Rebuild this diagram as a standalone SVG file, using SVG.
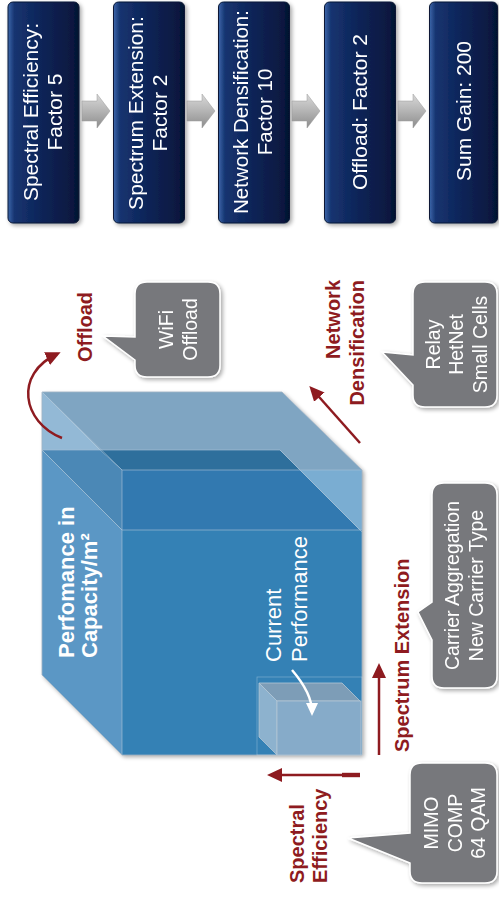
<svg xmlns="http://www.w3.org/2000/svg" width="499" height="899" viewBox="0 0 499 899">
<defs>
<style>
.box{stroke:#0a1836;stroke-width:1}
.boxtxt{fill:#ffffff;font-family:"Liberation Sans",Arial,sans-serif;font-size:21px;text-anchor:middle}
.call{fill:#77787b;stroke:#ffffff;stroke-width:1.5}
.calltxt{fill:#ffffff;font-family:"Liberation Sans",Arial,sans-serif;font-size:19.5px;text-anchor:middle}
.red{fill:#8e1b20;font-family:"Liberation Sans",Arial,sans-serif;font-size:20px;font-weight:bold}
.redline{fill:none;stroke:#8e1b20;stroke-width:2.5}
.edge{fill:none;stroke:#a9c1d6;stroke-width:0.8;stroke-opacity:0.8}
.garrow{fill:url(#gg);stroke:#9a9a9a;stroke-width:0.5}
</style>
<linearGradient id="bg" x1="0" y1="0" x2="1" y2="0">
<stop offset="0" stop-color="#3c66aa"/>
<stop offset="0.09" stop-color="#163470"/>
<stop offset="0.5" stop-color="#0c2356"/>
<stop offset="0.92" stop-color="#07183f"/>
<stop offset="1" stop-color="#04102c"/>
</linearGradient>
<linearGradient id="gg" x1="0" y1="0" x2="0" y2="1">
<stop offset="0" stop-color="#d8d8d8"/>
<stop offset="0.5" stop-color="#b4b4b4"/>
<stop offset="1" stop-color="#8c8c8c"/>
</linearGradient>
<filter id="sh" x="-20%" y="-20%" width="140%" height="140%">
<feGaussianBlur in="SourceAlpha" stdDeviation="2"/>
<feOffset dx="2" dy="2" result="b"/>
<feComponentTransfer><feFuncA type="linear" slope="0.35"/></feComponentTransfer>
<feMerge><feMergeNode/><feMergeNode in="SourceGraphic"/></feMerge>
</filter>
<marker id="rh" markerUnits="userSpaceOnUse" markerWidth="16" markerHeight="16" viewBox="0 0 16 16" refX="11" refY="8" orient="auto">
<path d="M0,1 L15,8 L0,15 Z" fill="#8e1b20"/>
</marker>
<marker id="wh" markerUnits="userSpaceOnUse" markerWidth="14" markerHeight="14" viewBox="0 0 14 14" refX="9" refY="7" orient="auto">
<path d="M0,1 L13,7 L0,13 Z" fill="#ffffff"/>
</marker>
</defs>
<rect width="499" height="899" fill="#ffffff"/>

<g id="box-spectral-efficiency" filter="url(#sh)">
<rect class="box" x="8" y="2" width="71" height="221" rx="5" fill="url(#bg)"/>
<text class="boxtxt" transform="translate(0,112) rotate(-90)"><tspan x="0" y="38">Spectral Efficiency:</tspan><tspan x="0" y="62">Factor 5</tspan></text>
</g>
<g id="box-spectrum-extension" filter="url(#sh)">
<rect class="box" x="113.5" y="2" width="71" height="221" rx="5" fill="url(#bg)"/>
<text class="boxtxt" transform="translate(0,113) rotate(-90)"><tspan x="0" y="143">Spectrum Extension:</tspan><tspan x="0" y="167">Factor 2</tspan></text>
</g>
<g id="box-network-densification" filter="url(#sh)">
<rect class="box" x="218.5" y="2" width="71" height="221" rx="5" fill="url(#bg)"/>
<text class="boxtxt" style="font-size:20.5px" transform="translate(0,112) rotate(-90)"><tspan x="0" y="248">Network Densification:</tspan><tspan x="0" y="272">Factor 10</tspan></text>
</g>
<g id="box-offload" filter="url(#sh)">
<rect class="box" x="324.5" y="2" width="71" height="221" rx="5" fill="url(#bg)"/>
<text class="boxtxt" transform="translate(0,112) rotate(-90)"><tspan x="0" y="367">Offload: Factor 2</tspan></text>
</g>
<g id="box-sum-gain" filter="url(#sh)">
<rect class="box" x="429.5" y="2" width="68" height="221" rx="5" fill="url(#bg)"/>
<text class="boxtxt" transform="translate(0,111) rotate(-90)"><tspan x="0" y="471">Sum Gain: 200</tspan></text>
</g>

<g id="cube">
<g filter="url(#sh)">
<path d="M42,392 H282 L362,470 V755 H122 L42,675 Z" fill="#ffffff"/>
</g>
<polygon points="42,450 122,530 122,755 42,675" fill="#5b97c5"/>
<rect x="122" y="530" width="240" height="225" fill="#3481b5"/>
<polygon points="100,450 280,450 300,470 122,470" fill="#2e6f9c"/>
<polygon points="122,470 300,470 360,530 122,530" fill="#3279b0"/>
<polygon points="300,470 362,470 362,530 360,530" fill="#7aadd2"/>
<polygon points="42,392 282,392 362,470 300,470 280,450 100,450" fill="#7fa5c2"/>
<polygon points="42,392 100,450 42,450" fill="#93b9d6"/>
<polygon points="42,450 100,450 122,470 122,530" fill="#4b88b6"/>
<path class="edge" d="M42,392 L122,470 M122,470 H362 M122,470 V755 M42,450 H280 L362,532 M42,450 L122,530 M122,530 H362"/>
<path class="edge" d="M42,392 H282 L362,470 V755 H122 L42,675 Z" style="stroke:#9fb3c6;stroke-width:1"/>
<g id="current-performance-cube">
<rect x="257" y="677" width="105" height="78" fill="none" stroke="#ffffff" stroke-opacity="0.3" stroke-width="0.8"/>
<polygon points="259,683 342,683 360,701 277,701" fill="#7d9db7" stroke="#b3c6d5" stroke-width="0.8"/>
<polygon points="259,683 277,701 277,755 259,737" fill="#8db2ce" stroke="#b3c6d5" stroke-width="0.8"/>
<rect x="277" y="701" width="84" height="54" fill="#86abc9" stroke="#b3c6d5" stroke-width="0.8"/>
</g>
<text fill="#ffffff" font-family="'Liberation Sans',Arial,sans-serif" font-size="22" font-weight="bold" transform="translate(0,658) rotate(-90)"><tspan x="0" y="74">Perfomance in</tspan><tspan x="0" y="97">Capacity/m²</tspan></text>
<text fill="#ffffff" font-family="'Liberation Sans',Arial,sans-serif" font-size="22" transform="translate(0,662) rotate(-90)"><tspan x="0" y="281">Current</tspan><tspan x="0" y="307">Performance</tspan></text>
</g>

<g id="connectors">
<polygon class="garrow" points="82,101 97,101 97,94 110,111 97,128 97,121 82,121"/>
<polygon class="garrow" points="187,101 202,101 202,94 215,111 202,128 202,121 187,121"/>
<polygon class="garrow" points="292,101 307,101 307,94 320,111 307,128 307,121 292,121"/>
<polygon class="garrow" points="398,101 413,101 413,94 426,111 413,128 413,121 398,121"/>
<path class="redline" d="M62,438 C22,422 14,374 57,354" marker-end="url(#rh)"/>
<path class="redline" d="M360,443 L312,389" marker-end="url(#rh)"/>
<path class="redline" d="M379,755 L379,667" marker-end="url(#rh)"/>
<path class="redline" d="M342,775 L271,775" marker-end="url(#rh)"/>
<rect x="342" y="772.8" width="18" height="4.4" fill="#8e1b20"/>
<path d="M292,670 C304,684 312,698 312,712" fill="none" stroke="#ffffff" stroke-width="2.5" marker-end="url(#wh)"/>
</g>

<g id="labels">
<text class="red" text-anchor="middle" transform="translate(0,327) rotate(-90)"><tspan x="0" y="92">Offload</tspan></text>
<text class="red" text-anchor="end" transform="translate(0,280) rotate(-90)"><tspan x="0" y="340">Network</tspan><tspan x="0" y="364">Densification</tspan></text>
<text class="red" text-anchor="start" transform="translate(0,752) rotate(-90)"><tspan x="0" y="409">Spectrum Extension</tspan></text>
<text class="red" text-anchor="start" transform="translate(0,883) rotate(-90)"><tspan x="0" y="304">Spectral</tspan><tspan x="0" y="327">Efficiency</tspan></text>
</g>

<g id="callout-wifi" filter="url(#sh)">
<path class="call" d="M147,282 H208 Q220,282 220,294 V365 Q220,377 208,377 H147 Q135,377 135,365 V360 L103,336 L135,337 V294 Q135,282 147,282 Z"/>
<text class="calltxt" transform="translate(0,329.5) rotate(-90)"><tspan x="0" y="173">WiFi</tspan><tspan x="0" y="197">Offload</tspan></text>
</g>
<g id="callout-densification" filter="url(#sh)">
<path class="call" d="M425,282 H485 Q497,282 497,294 V395 Q497,407 485,407 H425 Q413,407 413,395 V385 L382,352 L413,355 V294 Q413,282 425,282 Z"/>
<text class="calltxt" transform="translate(0,344.5) rotate(-90)"><tspan x="0" y="440">Relay</tspan><tspan x="0" y="463">HetNet</tspan><tspan x="0" y="487">Small Cells</tspan></text>
</g>
<g id="callout-spectrum" filter="url(#sh)">
<path class="call" d="M444,483 H485 Q497,483 497,495 V676 Q497,688 485,688 H444 Q432,688 432,676 V640 L418,612 L432,602 V495 Q432,483 444,483 Z"/>
<text class="calltxt" transform="translate(0,585.5) rotate(-90)"><tspan x="0" y="459">Carrier Aggregation</tspan><tspan x="0" y="483">New Carrier Type</tspan></text>
</g>
<g id="callout-efficiency" filter="url(#sh)">
<path class="call" d="M422,763 H485 Q497,763 497,775 V871 Q497,883 485,883 H422 Q410,883 410,871 V863 L348,838 L410,833 V775 Q410,763 422,763 Z"/>
<text class="calltxt" transform="translate(0,823) rotate(-90)"><tspan x="0" y="438">MIMO</tspan><tspan x="0" y="462">COMP</tspan><tspan x="0" y="485">64 QAM</tspan></text>
</g>
</svg>
